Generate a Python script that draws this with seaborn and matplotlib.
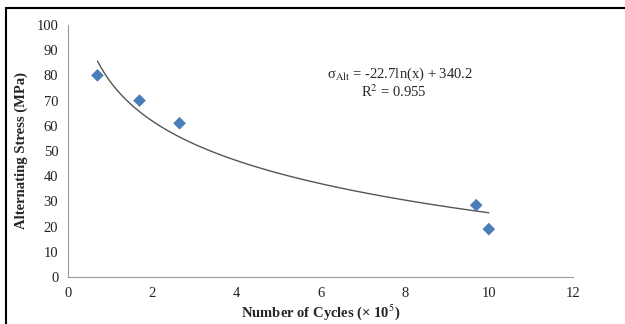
import numpy as np
import pandas as pd
import matplotlib
matplotlib.use('Agg')
import matplotlib.pyplot as plt
import seaborn as sns
from matplotlib.lines import Line2D

# 数据
cycles = [0.7, 1.7, 2.65, 9.7, 10.0]      # × 10^5
stress = [80, 70, 61, 28.5, 19]           # MPa
x_ticks = [0, 2, 4, 6, 8, 10, 12]
y_ticks = [0, 10, 20, 30, 40, 50, 60, 70, 80, 90, 100]

df = pd.DataFrame({'cycles': cycles, 'stress': stress})

sns.set_style('white')
plt.rcParams['font.family'] = ['Liberation Serif', 'DejaVu Serif']
plt.rcParams['mathtext.fontset'] = 'stix'

fig = plt.figure(figsize=(6.25, 3.24), dpi=100)
ax = fig.add_axes([0.1088, 0.145, 0.808, 0.778])

# 对数趋势线
sns.regplot(x='cycles', y='stress', data=df, logx=True, ci=None,
            scatter=False, ax=ax,
            line_kws={'color': '#555555', 'lw': 1.0})
sns.scatterplot(x='cycles', y='stress', data=df, ax=ax, marker='D',
                s=42, color='#4a7ebb', edgecolor='none', zorder=3)

ax.set_xlim(0, 12)
ax.set_ylim(0, 100)
ax.set_xticks(x_ticks)
ax.set_yticks(y_ticks)
ax.tick_params(axis='both', direction='out', length=4, width=0.8,
               color='#888888', labelsize=10.5, labelcolor='#222222', pad=3)
for s in ['top', 'right']:
    ax.spines[s].set_visible(False)
for s in ['left', 'bottom']:
    ax.spines[s].set_color('#999999')
    ax.spines[s].set_linewidth(0.8)

ax.set_xlabel('Number of Cycles (× 10$^5$)', fontsize=10.5, fontweight='bold', labelpad=2)
ax.set_ylabel('Alternating Stress (MPa)', fontsize=10.5, fontweight='bold', labelpad=6)

ax.text(6.15, 80.5, 'σ$_{\\mathrm{Alt}}$ = -22.7ln(x) + 340.2', fontsize=10.5, va='center', ha='left')
ax.text(7.75, 73.5, 'R$^2$ = 0.955', fontsize=10.5, va='center', ha='center')

# 外框
fig.add_artist(Line2D([0.0096, 1.0], [0.974, 0.974], transform=fig.transFigure, color='black', lw=1.5))
fig.add_artist(Line2D([0.0096, 0.0096], [0.0, 0.974], transform=fig.transFigure, color='black', lw=1.5))

plt.savefig('out.png', dpi=100)
